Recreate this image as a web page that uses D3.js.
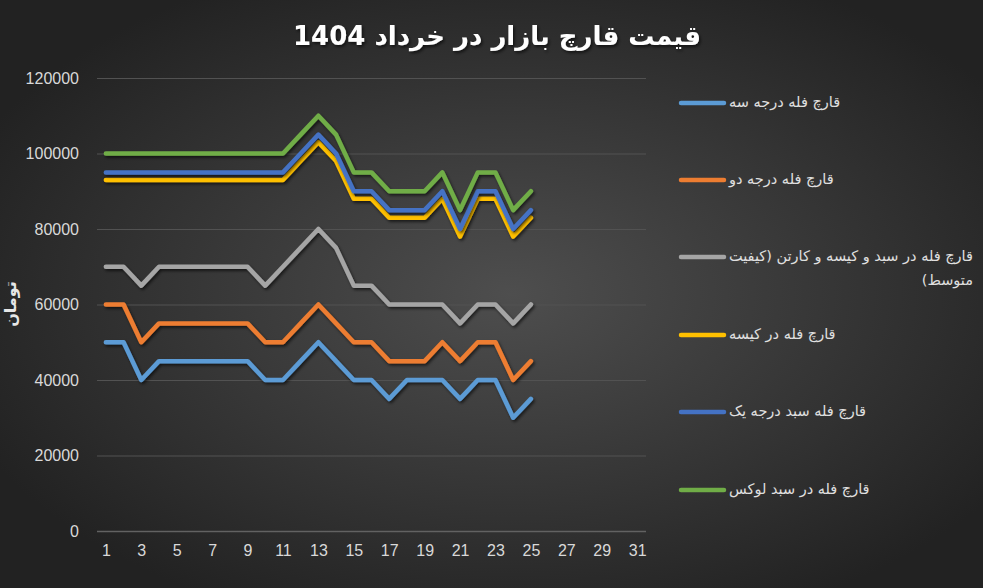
<!DOCTYPE html>
<html lang="fa">
<head>
<meta charset="UTF-8">
<style>
    body { margin: 0; background: #2b2b2b; }
    .tick text { fill: #d9d9d9; font-family: "Liberation Sans", Arial, sans-serif; font-size: 16px; }
    .legendText { fill: #e0e0e0; font-family: "DejaVu Sans", sans-serif; font-size: 14.5px; }
</style>
</head>
<body>
<script src="https://d3js.org/d3.v7.min.js"></script>
<script>
    var W = 983, H = 588;

    // روزهای ماه
    var days = [1,2,3,4,5,6,7,8,9,10,11,12,13,14,15,16,17,18,19,20,21,22,23,24,25,26,27,28,29,30,31];
    var xTickLabels = [1,3,5,7,9,11,13,15,17,19,21,23,25,27,29,31];
    var yTicks = [0,20000,40000,60000,80000,100000,120000];

    var seriesNames = [
        'قارچ فله درجه سه',
        'قارچ فله درجه دو',
        'قارچ فله در سبد و کیسه و کارتن (کیفیت متوسط)',
        'قارچ فله در کیسه',
        'قارچ فله سبد درجه یک',
        'قارچ فله در سبد لوکس'
    ];
    var seriesColors = ['#5B9BD5','#ED7D31','#A5A5A5','#FFC000','#4472C4','#70AD47'];

    var grade3   = [50000,50000,40000,45000,45000,45000,45000,45000,45000,40000,40000,45000,50000,45000,40000,40000,35000,40000,40000,40000,35000,40000,40000,30000,35000];
    var grade2   = [60000,60000,50000,55000,55000,55000,55000,55000,55000,50000,50000,55000,60000,55000,50000,50000,45000,45000,45000,50000,45000,50000,50000,40000,45000];
    var average  = [70000,70000,65000,70000,70000,70000,70000,70000,70000,65000,70000,75000,80000,75000,65000,65000,60000,60000,60000,60000,55000,60000,60000,55000,60000];
    var inBag    = [93000,93000,93000,93000,93000,93000,93000,93000,93000,93000,93000,98000,103000,98000,88000,88000,83000,83000,83000,88000,78000,88000,88000,78000,83000];
    var grade1   = [95000,95000,95000,95000,95000,95000,95000,95000,95000,95000,95000,100000,105000,100000,90000,90000,85000,85000,85000,90000,80000,90000,90000,80000,85000];
    var luxury   = [100000,100000,100000,100000,100000,100000,100000,100000,100000,100000,100000,105000,110000,105000,95000,95000,90000,90000,90000,95000,85000,95000,95000,85000,90000];

    var seriesValues = [grade3, grade2, average, inBag, grade1, luxury];

    var svg = d3.select('body').append('svg').attr('width', W).attr('height', H);
    var defs = svg.append('defs');

    var grad = defs.append('radialGradient').attr('id', 'bg')
        .attr('cx', '52%').attr('cy', '50%').attr('r', '60%');
    grad.append('stop').attr('offset', '0%').attr('stop-color', '#4e4e4e');
    grad.append('stop').attr('offset', '100%').attr('stop-color', '#222222');

    var shadow = defs.append('filter').attr('id', 'shadow')
        .attr('x', '-10%').attr('y', '-10%').attr('width', '120%').attr('height', '130%');
    shadow.append('feDropShadow').attr('dx', 1.5).attr('dy', 2).attr('stdDeviation', 1.5)
        .attr('flood-color', '#000').attr('flood-opacity', 0.6);

    svg.append('rect').attr('width', W).attr('height', H).attr('fill', 'url(#bg)');

    var x = d3.scalePoint().domain(days).range([97, 646]).padding(0.5);
    var y = d3.scaleLinear().domain([0, 120000]).range([531, 78]);

    // خطوط شبکه
    svg.append('g').selectAll('line')
        .data(yTicks).enter().append('line')
            .attr('x1', 97).attr('x2', 646)
            .attr('y1', function(d){ return y(d) + 0.5; })
            .attr('y2', function(d){ return y(d) + 0.5; })
            .attr('stroke', function(d){ return d === 0 ? '#626262' : '#525252'; })
            .attr('stroke-width', function(d){ return d === 0 ? 1.5 : 1; });

    var yAxis = svg.append('g').attr('transform', 'translate(97,0)')
        .call(d3.axisLeft(y).tickValues(yTicks).tickFormat(d3.format('d')).tickSize(0).tickPadding(18));
    yAxis.select('.domain').remove();

    var xAxis = svg.append('g').attr('transform', 'translate(0,531)')
        .call(d3.axisBottom(x).tickValues(xTickLabels).tickSize(0).tickPadding(14));
    xAxis.select('.domain').remove();

    svg.append('text')
        .attr('transform', 'translate(16,304) rotate(-90)')
        .attr('text-anchor', 'middle')
        .attr('fill', '#e6e6e6')
        .style('font-family', '"DejaVu Sans", sans-serif')
        .style('font-size', '16px')
        .style('font-weight', 'bold')
        .text('تومان');

    var line = d3.line()
        .x(function(d, i){ return x(days[i]); })
        .y(function(d){ return y(d); });

    svg.append('g').selectAll('path')
        .data(seriesValues).enter().append('path')
            .attr('d', line)
            .attr('fill', 'none')
            .attr('stroke', function(d, i){ return seriesColors[i]; })
            .attr('stroke-width', 4.5)
            .attr('stroke-linejoin', 'round')
            .attr('stroke-linecap', 'round')
            .attr('filter', 'url(#shadow)');

    // عنوان
    svg.append('text')
        .attr('x', 497).attr('y', 45)
        .attr('text-anchor', 'middle')
        .attr('direction', 'rtl')
        .attr('fill', '#ffffff')
        .attr('filter', 'url(#shadow)')
        .style('font-family', '"DejaVu Sans", sans-serif')
        .style('font-size', '26px')
        .style('font-weight', 'bold')
        .text('قیمت قارچ بازار در خرداد 1404');

    // راهنما
    var legendY = [103, 180, 257, 335, 412, 490];
    var legend = svg.append('g').selectAll('g')
        .data(seriesNames).enter().append('g');

    legend.append('line')
        .attr('x1', 681).attr('x2', 724)
        .attr('y1', function(d, i){ return legendY[i]; })
        .attr('y2', function(d, i){ return legendY[i]; })
        .attr('stroke', function(d, i){ return seriesColors[i]; })
        .attr('stroke-width', 4.5)
        .attr('stroke-linecap', 'round');

    legend.each(function(d, i){
        var g = d3.select(this);
        var lines = i === 2 ? ['قارچ فله در سبد و کیسه و کارتن (کیفیت', 'متوسط)'] : [d];
        var t = g.append('text')
            .attr('class', 'legendText')
            .attr('direction', 'rtl')
            .attr('text-anchor', 'start');
        lines.forEach(function(s, k){
            t.append('tspan').attr('y', legendY[i] + 4 + k * 24).text(s);
        });
        var w = t.select('tspan').node().getComputedTextLength();
        t.selectAll('tspan').attr('x', 729 + w);
    });
</script>
</body>
</html>
